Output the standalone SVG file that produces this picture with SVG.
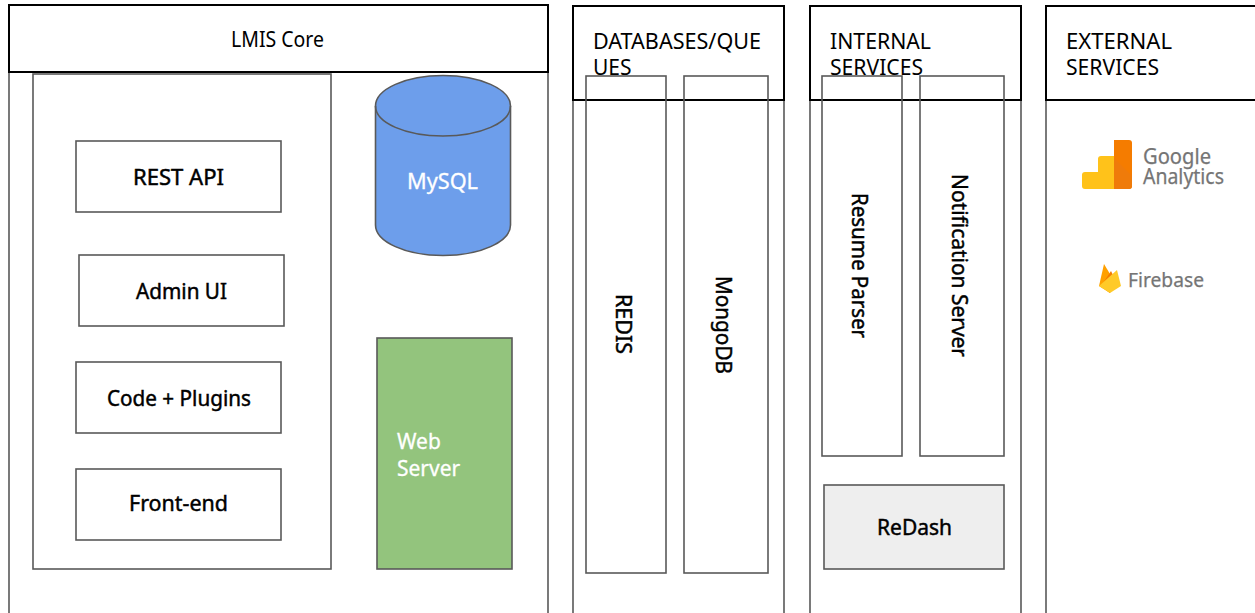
<svg xmlns="http://www.w3.org/2000/svg" width="1255" height="613" viewBox="0 0 1255 613">
<style>
.b{fill:#fff;stroke:#595959;stroke-width:1.6}
.n{fill:none;stroke:#595959;stroke-width:1.6}
.h{fill:#fff;stroke:#000;stroke-width:2}
text{font-family:"Noto Sans","Open Sans",sans-serif;font-size:21px;fill:#000}
.m{stroke:#000;stroke-width:.45px}
.w{fill:#fff;stroke:#fff;stroke-width:.3px}
.l{fill:#757575;stroke:#757575;stroke-width:.25px}
</style>
<rect width="1255" height="613" fill="#fff"/>
<g id="core"><path class="b" d="M9 72V613M548 72V613"/><rect class="h" x="9" y="5" width="539" height="67"/><text x="231" y="47" textLength="93" lengthAdjust="spacingAndGlyphs">LMIS Core</text></g>
<g id="core-inner"><rect class="b" x="33" y="74" width="298" height="495"/></g>
<g id="rest"><rect class="b" x="76" y="141" width="205" height="71"/><text x="133" y="185" class="m" textLength="91" lengthAdjust="spacingAndGlyphs">REST API</text></g>
<g id="admin"><rect class="b" x="79" y="255" width="205" height="71"/><text x="136" y="299" class="m" textLength="91" lengthAdjust="spacingAndGlyphs">Admin UI</text></g>
<g id="code"><rect class="b" x="76" y="362" width="205" height="71"/><text x="107" y="406" class="m" textLength="144" lengthAdjust="spacingAndGlyphs">Code + Plugins</text></g>
<g id="front"><rect class="b" x="76" y="469" width="205" height="71"/><text x="129" y="511" class="m" textLength="99" lengthAdjust="spacingAndGlyphs">Front-end</text></g>
<g id="mysql"><path d="M375.500 106C375.500 89 406 75.500 443 75.500S510.500 89 510.500 106V225C510.500 242 480 255.500 443 255.500S375.500 242 375.500 225Z" fill="#6d9eeb" stroke="#595959" stroke-width="1.6"/><path class="n" d="M375.500 106C375.500 123 406 136 443 136S510.500 123 510.500 106"/><text x="407" y="189" class="w" textLength="71" lengthAdjust="spacingAndGlyphs">MySQL</text></g>
<g id="web"><rect x="377" y="338" width="135" height="231" fill="#93c47d" stroke="#595959" stroke-width="1.6"/><text x="397" y="449" class="w">Web</text><text x="397" y="476" class="w">Server</text></g>
<g id="db"><path class="b" d="M573 100V613M784 100V613"/><rect class="h" x="573" y="6" width="211" height="94"/><text x="593" y="49" textLength="168" lengthAdjust="spacingAndGlyphs">DATABASES/QUE</text><text x="593" y="75">UES</text></g>
<g id="redis"><rect class="n" x="586" y="76" width="80" height="497"/><text transform="translate(616 294) rotate(90)" class="m" textLength="60" lengthAdjust="spacingAndGlyphs">REDIS</text></g>
<g id="mongo"><rect class="n" x="684" y="76" width="84" height="497"/><text transform="translate(716 276) rotate(90)" class="m" textLength="98" lengthAdjust="spacingAndGlyphs">MongoDB</text></g>
<g id="internal"><path class="b" d="M810 100V613M1021 100V613"/><rect class="h" x="810" y="6" width="211" height="94"/><text x="830" y="49" textLength="101" lengthAdjust="spacingAndGlyphs">INTERNAL</text><text x="830" y="75" textLength="93" lengthAdjust="spacingAndGlyphs">SERVICES</text></g>
<g id="resume"><rect class="n" x="822" y="76" width="80" height="380"/><text transform="translate(852 193) rotate(90)" class="m" textLength="145" lengthAdjust="spacingAndGlyphs">Resume Parser</text></g>
<g id="notif"><rect class="n" x="920" y="76" width="84" height="380"/><text transform="translate(952 174) rotate(90)" class="m" textLength="183" lengthAdjust="spacingAndGlyphs">Notification Server</text></g>
<g id="redash"><rect x="824" y="485" width="180" height="84" fill="#eee" stroke="#595959" stroke-width="1.6"/><text x="877" y="535" class="m" textLength="75" lengthAdjust="spacingAndGlyphs">ReDash</text></g>
<g id="external"><path class="b" d="M1046 100V613"/><path class="h" d="M1255 100H1046V6H1255"/><text x="1066" y="49" textLength="106" lengthAdjust="spacingAndGlyphs">EXTERNAL</text><text x="1066" y="75" textLength="93" lengthAdjust="spacingAndGlyphs">SERVICES</text></g>
<g id="ga"><path d="M1114 140H1129a3 3 0 0 1 3 3V186a3 3 0 0 1-3 3H1114Z" fill="#f57c00"/><path d="M1114 158L1132 176V186a3 3 0 0 1-3 3H1114Z" fill="#ef7b0a"/><path d="M1114 156H1101a3 3 0 0 0-3 3V172H1085a3 3 0 0 0-3 3V186a3 3 0 0 0 3 3H1114Z" fill="#ffc21a"/><text x="1143" y="164" class="l" textLength="68" lengthAdjust="spacingAndGlyphs">Google</text><text x="1143" y="184" class="l" textLength="81" lengthAdjust="spacingAndGlyphs">Analytics</text></g>
<g id="firebase"><path d="M1099 286L1104 264L1110 274L1110 293Z" fill="#ffa000"/><path d="M1101 286L1111 271L1114 277L1110 293Z" fill="#f57c00"/><path d="M1099 286L1117 270L1121 286L1110 293Z" fill="#ffca28"/><text x="1128" y="287" class="l" style="font-size:20px" textLength="76" lengthAdjust="spacingAndGlyphs">Firebase</text></g>
<g id="connectors"/>
</svg>
